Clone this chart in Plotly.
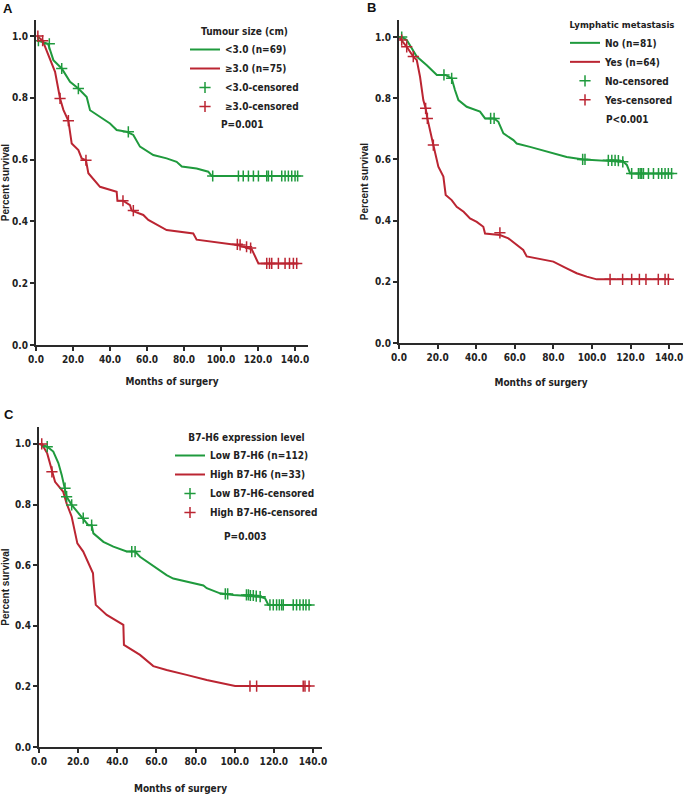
import plotly.graph_objects as go

# ---------------- data ----------------
# Panel A: Tumour size
a_low_t = [0.5, 1.3, 6.5, 9.4, 13.9, 18.4, 22.9, 27.4, 29.2, 34.6, 40, 43.6, 49, 52.6, 56.2, 63.4, 70.6, 76, 78.8, 86.8, 93.1, 95, 141.5]
a_low_s = [0.985, 0.985, 0.975, 0.922, 0.895, 0.852, 0.83, 0.803, 0.76, 0.739, 0.717, 0.696, 0.69, 0.68, 0.642, 0.615, 0.604, 0.593, 0.578, 0.571, 0.561, 0.547, 0.547]
a_low_ct = [1.3, 7.2, 13.9, 22.9, 49.9, 95.5, 109.4, 112, 114.8, 117.5, 120.2, 124.7, 125.6, 127.4, 132.8, 134.6, 136.4, 138.2, 140, 141.4]
a_low_cs = [0.985, 0.975, 0.895, 0.83, 0.69, 0.547, 0.547, 0.547, 0.547, 0.547, 0.547, 0.547, 0.547, 0.547, 0.547, 0.547, 0.547, 0.547, 0.547, 0.547]
a_high_t = [0.5, 3.6, 6.7, 10.3, 13, 14.8, 17.5, 19.3, 22.9, 24.7, 27, 28.3, 34.6, 43.6, 44, 47, 50.8, 51.7, 58, 60.7, 70.6, 85, 86.8, 108.5, 116.6, 120.2, 141.4]
a_high_s = [1.0, 0.985, 0.938, 0.884, 0.798, 0.761, 0.726, 0.652, 0.631, 0.604, 0.598, 0.556, 0.512, 0.496, 0.467, 0.467, 0.453, 0.435, 0.421, 0.405, 0.372, 0.361, 0.341, 0.324, 0.31, 0.264, 0.264]
a_high_ct = [1.0, 3.6, 13, 17.5, 27, 47, 52.6, 108.8, 110.3, 113.8, 116, 124.7, 126.2, 127.4, 131, 134.6, 137, 139.1, 140.9]
a_high_cs = [1.0, 0.985, 0.798, 0.726, 0.598, 0.467, 0.435, 0.326, 0.324, 0.318, 0.314, 0.264, 0.264, 0.264, 0.264, 0.264, 0.264, 0.264, 0.264]

# Panel B: Lymphatic metastasis
b_no_t = [0, 1.4, 4, 6.6, 9.2, 14.4, 19.6, 24, 27.3, 29, 30.8, 35.1, 42, 44.6, 49.3, 51.5, 54.1, 59.3, 61, 67.9, 76.6, 86.9, 95.6, 109.4, 116.3, 118.1, 119.8, 141.3]
b_no_s = [1.0, 1.0, 0.99, 0.963, 0.936, 0.908, 0.876, 0.876, 0.865, 0.827, 0.794, 0.772, 0.756, 0.734, 0.734, 0.723, 0.685, 0.663, 0.652, 0.641, 0.625, 0.608, 0.6, 0.596, 0.592, 0.582, 0.554, 0.554]
b_no_ct = [1.4, 23.3, 27.3, 47.5, 49.3, 95.2, 96.4, 108.5, 110.3, 112, 113.7, 116, 120.6, 124.1, 125, 125.8, 126.7, 129.3, 131.9, 134.5, 136.2, 137.9, 139.6, 141.3]
b_no_cs = [1.0, 0.876, 0.865, 0.734, 0.734, 0.6, 0.6, 0.597, 0.597, 0.597, 0.596, 0.592, 0.554, 0.554, 0.554, 0.554, 0.554, 0.554, 0.554, 0.554, 0.554, 0.554, 0.554, 0.554]
b_yes_t = [0, 1.4, 4, 7.4, 9.2, 10.9, 12.6, 13.8, 14.7, 17.8, 20.4, 23, 24.2, 27.3, 29.9, 33.5, 36.8, 40.3, 43.7, 44.6, 52.3, 56.7, 61, 64.4, 66.2, 80, 86.9, 92.1, 97.3, 102.5, 140.5]
b_yes_s = [1.0, 0.99, 0.968, 0.936, 0.925, 0.87, 0.794, 0.767, 0.734, 0.647, 0.576, 0.544, 0.484, 0.467, 0.445, 0.429, 0.407, 0.396, 0.38, 0.358, 0.353, 0.342, 0.32, 0.304, 0.283, 0.266, 0.244, 0.228, 0.217, 0.208, 0.208]
b_yes_ct = [1.4, 4, 7.4, 13.8, 14.7, 17.8, 52.3, 109.4, 115.9, 120.6, 124.6, 128, 134.4, 137.9, 139.6]
b_yes_cs = [0.99, 0.968, 0.936, 0.767, 0.734, 0.647, 0.36, 0.208, 0.208, 0.208, 0.208, 0.208, 0.208, 0.208, 0.208]

# Panel C: B7-H6 expression
c_low_t = [0, 1.4, 4.2, 7.3, 9.9, 11.6, 13.3, 14.1, 16.7, 20.9, 22.6, 25.2, 26.9, 27.8, 32.9, 38, 44.8, 49.1, 51.6, 56.7, 61.8, 65.2, 68.6, 75.4, 84, 85.7, 92.5, 99.3, 113, 115.5, 117.2, 139]
c_low_s = [1.0, 0.997, 0.991, 0.975, 0.937, 0.898, 0.854, 0.826, 0.799, 0.766, 0.755, 0.732, 0.732, 0.705, 0.677, 0.661, 0.645, 0.645, 0.628, 0.606, 0.584, 0.567, 0.556, 0.545, 0.533, 0.524, 0.507, 0.502, 0.496, 0.491, 0.469, 0.469]
c_low_ct = [4.2, 13.3, 14.1, 16.7, 22.6, 26.9, 47.4, 49.1, 95.2, 96.4, 106, 107, 108, 109.5, 111, 113, 118, 119.7, 121.4, 122.8, 124, 124.8, 129.9, 131.6, 133.3, 135, 136.4, 138]
c_low_cs = [0.991, 0.854, 0.826, 0.799, 0.755, 0.732, 0.645, 0.645, 0.505, 0.505, 0.502, 0.502, 0.5, 0.5, 0.498, 0.496, 0.469, 0.469, 0.469, 0.469, 0.469, 0.469, 0.469, 0.469, 0.469, 0.469, 0.469, 0.469]
c_high_t = [0, 1.4, 4.2, 6.6, 8.2, 12.4, 14.1, 16.7, 18.4, 19.6, 22.6, 25.2, 27.6, 27.8, 29.0, 34.6, 43.1, 43.4, 51.6, 58.4, 65.2, 75.4, 85.7, 100.2, 138.5]
c_high_s = [1.0, 1.0, 0.969, 0.908, 0.875, 0.842, 0.804, 0.76, 0.711, 0.672, 0.645, 0.607, 0.573, 0.551, 0.469, 0.436, 0.403, 0.337, 0.304, 0.267, 0.254, 0.238, 0.221, 0.201, 0.201]
c_high_ct = [1.4, 6.6, 107.8, 111.2, 135, 135.9, 138]
c_high_cs = [1.0, 0.908, 0.201, 0.201, 0.201, 0.201, 0.201]

x_ticks = [0, 20, 40, 60, 80, 100, 120, 140]
y_ticks = [0.0, 0.2, 0.4, 0.6, 0.8, 1.0]

# ---------------- style ----------------
GREEN = "#1f9a3d"
RED = "#bb2532"
FONT = "DejaVu Sans Condensed, Liberation Sans Narrow, sans-serif"
FS = 10
W, H = 685, 795

def px(x):
    return x / W

def py(y):
    return 1 - y / H

panels = [
    dict(ax="", leg="legend", title="Tumour size (cm)", tsize=10,
         names=["<3.0 (n=69)", "≥3.0 (n=75)", "<3.0-censored", "≥3.0-censored"],
         data=[(a_low_t, a_low_s, a_low_ct, a_low_cs), (a_high_t, a_high_s, a_high_ct, a_high_cs)],
         xdom=[px(36), px(308)], ydom=[py(345), py(20)], xr=[0, 147], yr=[0, 1.052],
         legpos=(185, 22), p="P=0.001", ppos=(243, 125), letter="A", lpos=(8, 9), standoff=14),
    dict(ax="2", leg="legend2", title="Lymphatic metastasis", tsize=9.5,
         names=["No (n=81)", "Yes (n=64)", "No-censored", "Yes-censored"],
         data=[(b_no_t, b_no_s, b_no_ct, b_no_cs), (b_yes_t, b_yes_s, b_yes_ct, b_yes_cs)],
         xdom=[px(399), px(683)], ydom=[py(343), py(20)], xr=[0, 147.2], yr=[0, 1.0556],
         legpos=(565, 16), p="P<0.001", ppos=(627, 120), letter="B", lpos=(371, 8), standoff=17),
    dict(ax="3", leg="legend3", title="B7-H6 expression level", tsize=10,
         names=["Low B7-H6 (n=112)", "High B7-H6 (n=33)", "Low B7-H6-censored", "High B7-H6-censored"],
         data=[(c_low_t, c_low_s, c_low_ct, c_low_cs), (c_high_t, c_high_s, c_high_ct, c_high_cs)],
         xdom=[px(39), px(322)], ydom=[py(747), py(427)], xr=[0, 144.6], yr=[0, 1.056],
         legpos=(170, 428), p="P=0.003", ppos=(245, 536), letter="C", lpos=(9, 414), standoff=19),
]

fig = go.Figure()
annotations = []
layout = {}
colors = [GREEN, RED]
tfont = dict(family=FONT, size=FS, color="#222", weight="bold")

for p in panels:
    xa = "x" + p["ax"]
    ya = "y" + p["ax"]
    for i, (t, s, ct, cs) in enumerate(p["data"]):
        fig.add_trace(go.Scatter(x=t, y=s, mode="lines", name=p["names"][i],
                                 line=dict(color=colors[i], width=2),
                                 xaxis=xa, yaxis=ya, legend=p["leg"]))
    for i, (t, s, ct, cs) in enumerate(p["data"]):
        fig.add_trace(go.Scatter(x=ct, y=cs, mode="markers", name=p["names"][i + 2],
                                 marker=dict(symbol="cross-thin", size=8,
                                             line=dict(color=colors[i], width=1.5)),
                                 xaxis=xa, yaxis=ya, legend=p["leg"]))
    axis_common = dict(showline=True, linewidth=2, linecolor="#2a2a2a", ticks="outside",
                       ticklen=4, tickwidth=2, tickcolor="#2a2a2a", showgrid=False,
                       zeroline=False, tickformat=".1f", tickfont=tfont)
    layout["xaxis" + p["ax"]] = dict(axis_common, domain=p["xdom"], range=p["xr"],
                                     tickvals=x_ticks, anchor=ya,
                                     title=dict(text="Months of surgery", standoff=p["standoff"], font=tfont))
    layout["yaxis" + p["ax"]] = dict(axis_common, domain=p["ydom"], range=p["yr"],
                                     tickvals=y_ticks, anchor=xa,
                                     title=dict(text="Percent survival", standoff=5,
                                                font=dict(family="Liberation Sans, Arial, sans-serif",
                                                          size=FS, color="#222", weight="bold")))
    layout[p["leg"]] = dict(x=px(p["legpos"][0]), y=py(p["legpos"][1]), xanchor="left", yanchor="top",
                            bgcolor="rgba(0,0,0,0)", tracegroupgap=0, itemwidth=30,
                            font=tfont,
                            title=dict(text=p["title"], side="top center",
                                       font=dict(tfont, size=p["tsize"])))
    annotations.append(dict(x=px(p["ppos"][0]), y=py(p["ppos"][1]), xref="paper", yref="paper",
                            text=p["p"], showarrow=False, xanchor="center", yanchor="middle",
                            font=tfont))
    annotations.append(dict(x=px(p["lpos"][0]), y=py(p["lpos"][1]), xref="paper", yref="paper",
                            text=p["letter"], showarrow=False, xanchor="center", yanchor="middle",
                            font=dict(family="Liberation Sans, Arial, sans-serif", size=13,
                                      color="#111", weight="bold")))

fig.update_layout(width=W, height=H, margin=dict(l=0, r=0, t=0, b=0),
                  paper_bgcolor="white", plot_bgcolor="white",
                  annotations=annotations, **layout)
for k in ["xaxis", "yaxis", "xaxis2", "yaxis2", "xaxis3", "yaxis3"]:
    fig.layout[k].automargin = False

fig.write_html("out.html", config={"displayModeBar": False},
               post_script="document.body.style.margin='0';document.body.style.overflow='hidden';")
